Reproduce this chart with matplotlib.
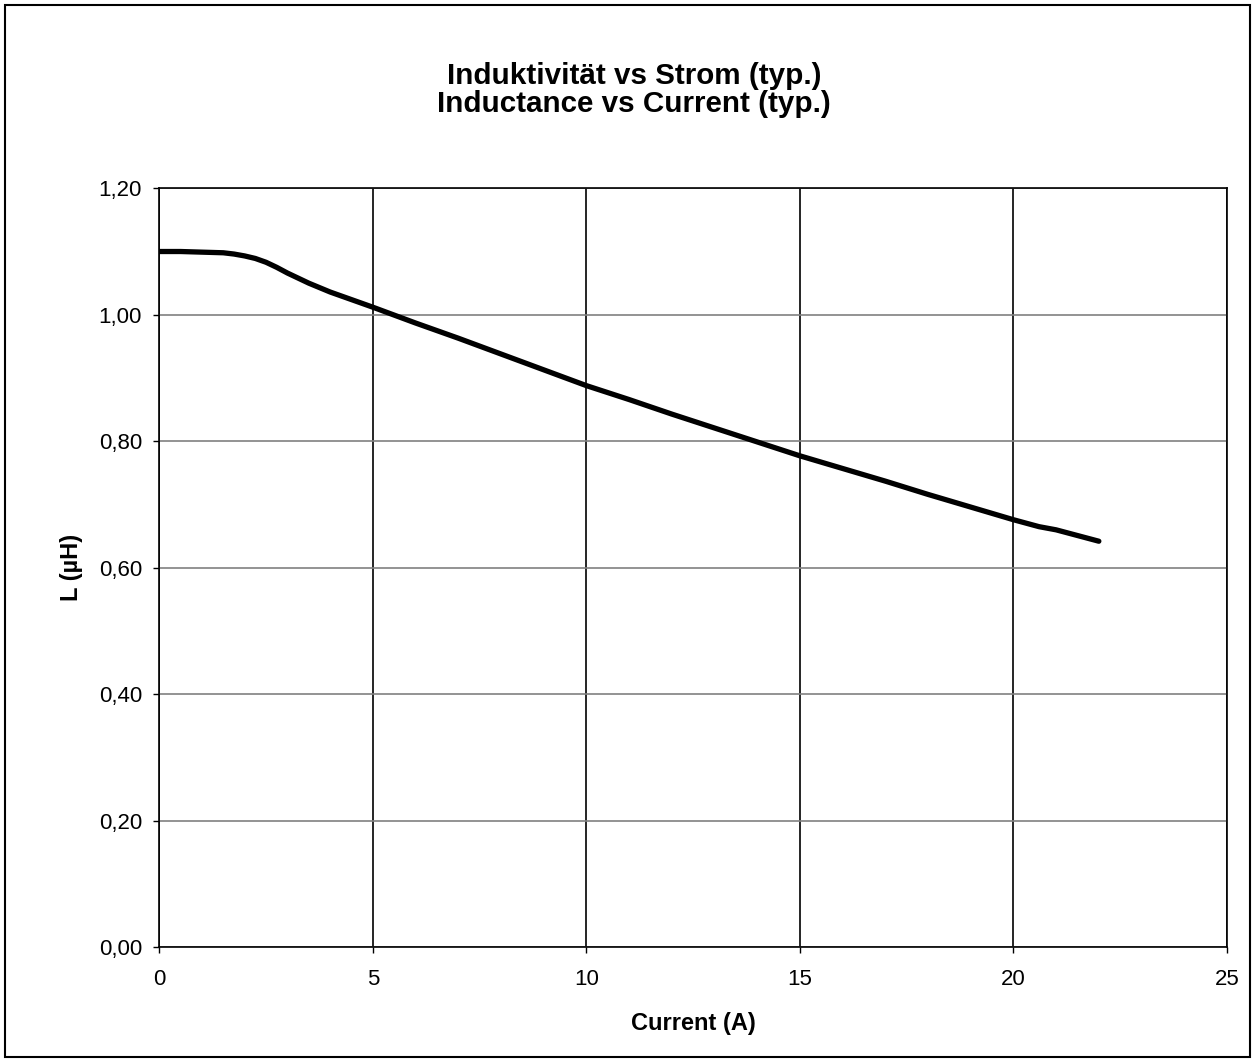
"""
Inductance vs current curve (typ.), redrawn from a datasheet chart.
"""

import matplotlib

matplotlib.use("Agg")

import matplotlib.pyplot as plt
from matplotlib.patches import Rectangle
from matplotlib.ticker import FuncFormatter, MultipleLocator

plt.rcParams["font.family"] = ["Liberation Sans", "DejaVu Sans"]

# data
current_a = [0, 0.5, 1, 1.5, 1.75, 2, 2.25, 2.5, 2.75, 3, 3.5, 4, 5, 6, 7,
             8, 9, 10, 11, 12, 13, 14, 15, 16, 17, 18, 19, 20, 20.6, 21, 22]
inductance_uh = [1.100, 1.100, 1.099, 1.098, 1.096, 1.093, 1.089, 1.083,
                 1.075, 1.066, 1.050, 1.036, 1.012, 0.987, 0.963, 0.938,
                 0.913, 0.888, 0.866, 0.843, 0.821, 0.799, 0.777, 0.757,
                 0.737, 0.716, 0.696, 0.676, 0.665, 0.660, 0.642]

title_lines = ["Induktivität vs Strom (typ.)", "Inductance vs Current (typ.)"]
x_label = "Current (A)"
y_label = "L (µH)"


def main():
    fig = plt.figure(figsize=(12.52, 10.60), dpi=100, facecolor="white")
    ax = fig.add_axes([0.1272, 0.1063, 0.8528, 0.7161])

    ax.plot(current_a, inductance_uh, color="black", lw=3.8,
            solid_capstyle="round", solid_joinstyle="round", zorder=3)

    ax.set_xlim(0, 25)
    ax.set_ylim(0, 1.2)
    ax.xaxis.set_major_locator(MultipleLocator(5))
    ax.yaxis.set_major_locator(MultipleLocator(0.2))
    ax.yaxis.set_major_formatter(
        FuncFormatter(lambda v, _: f"{v:.2f}".replace(".", ","))
    )

    # horizontal grid grey, vertical grid black, as in the original
    ax.grid(axis="y", color="#808080", lw=1.2)
    ax.grid(axis="x", color="black", lw=1.2)
    ax.set_axisbelow(True)

    for spine in ax.spines.values():
        spine.set_color("black")
        spine.set_linewidth(1.2)

    ax.tick_params(direction="out", length=4.5, width=1, colors="black",
                   labelsize=16)
    ax.tick_params(axis="x", pad=11)
    ax.tick_params(axis="y", pad=8)

    ax.set_xlabel(x_label, fontsize=17, fontweight="bold", labelpad=16)
    ax.set_ylabel(y_label, fontsize=17, fontweight="bold", labelpad=11)

    for line, y_px in zip(title_lines, [76, 104]):
        fig.text(634 / 1252, 1 - y_px / 1060, line, ha="center", va="center",
                 fontsize=21.3, fontweight="bold")

    # thin frame around the whole chart
    fig.patches.append(
        Rectangle((5 / 1252, 3 / 1060), 1245 / 1252, 1052 / 1060,
                  transform=fig.transFigure, fill=False,
                  edgecolor="black", lw=1.5)
    )

    fig.savefig("out.png", dpi=100, facecolor="white")
    plt.close(fig)


if __name__ == "__main__":
    main()
